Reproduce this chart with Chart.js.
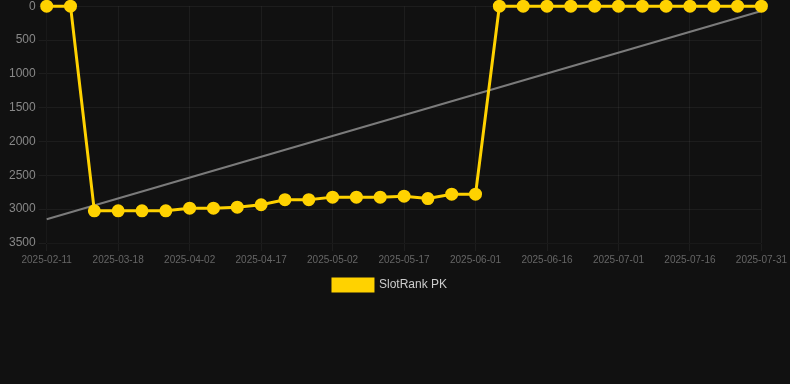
<!DOCTYPE html>
<html>
<head>
<meta charset="utf-8">
<script src="https://cdn.jsdelivr.net/npm/chart.js@4"></script>
<style>
  html, body { margin: 0; padding: 0; background: #111111; overflow: hidden; }
  #wrap { width: 790px; height: 305px; position: relative; margin-top: -4px; }
</style>
</head>
<body>
<div id="wrap"><canvas id="rank-chart"></canvas></div>
<script>
const labels = [
  '2025-02-11', '2025-03-08', '2025-03-13', '2025-03-18', '2025-03-23', '2025-03-28',
  '2025-04-02', '2025-04-07', '2025-04-12', '2025-04-17', '2025-04-22', '2025-04-27',
  '2025-05-02', '2025-05-07', '2025-05-12', '2025-05-17', '2025-05-22', '2025-05-27',
  '2025-06-01', '2025-06-06', '2025-06-11', '2025-06-16', '2025-06-21', '2025-06-26',
  '2025-07-01', '2025-07-06', '2025-07-11', '2025-07-16', '2025-07-21', '2025-07-26',
  '2025-07-31'
];
const rankValues = [
  0, 0, 3025, 3025, 3025, 3025,
  2985, 2985, 2970, 2935, 2860, 2860,
  2822, 2822, 2822, 2808, 2843, 2778,
  2778, 0, 0, 0, 0, 0,
  0, 0, 0, 0, 0, 0,
  0
];
const trendStart = 3150;
const trendEnd = 70;

async function main() {
  const canvas = document.querySelector('#rank-chart');

  const trendData = labels.map((l, i) => {
    if (i === 0) return trendStart;
    if (i === labels.length - 1) return trendEnd;
    return null;
  });

  // legend in the original sits a bit left of centre
  const legendShift = {
    id: 'legendShift',
    afterLayout(chart) {
      chart.legend.right -= 16;
    }
  };

  new Chart(canvas.getContext('2d'), {
    type: 'line',
    data: {
      labels: labels,
      datasets: [
        {
          label: 'SlotRank PK',
          data: rankValues,
          borderColor: 'rgb(255, 210, 0)',
          backgroundColor: 'rgb(255, 210, 0)',
          borderWidth: 3,
          pointRadius: 5,
          pointHoverRadius: 6,
          tension: 0,
          clip: false
        },
        {
          label: 'trend',
          data: trendData,
          borderColor: 'rgba(150, 150, 150, 0.8)',
          backgroundColor: 'rgba(150, 150, 150, 0.8)',
          borderWidth: 2,
          pointRadius: 0,
          spanGaps: true,
          tension: 0
        }
      ]
    },
    options: {
      responsive: true,
      maintainAspectRatio: false,
      animation: false,
      layout: { padding: { left: 6, right: 0, top: 0, bottom: 0 } },
      scales: {
        x: {
          ticks: {
            color: '#666',
            font: { family: 'Liberation Sans, Arial, sans-serif', size: 10 },
            maxRotation: 0,
            autoSkip: true
          },
          grid: { color: 'rgba(255,255,255,0.05)' }
        },
        y: {
          reverse: true,
          min: 0,
          max: 3500,
          ticks: {
            stepSize: 500,
            color: '#888',
            font: { family: 'Liberation Sans, Arial, sans-serif', size: 12 },
            callback: v => String(v)
          },
          grid: { color: 'rgba(255,255,255,0.05)' }
        }
      },
      plugins: {
        legend: {
          position: 'bottom',
          labels: {
            color: '#ccc',
            font: { family: 'Liberation Sans, Arial, sans-serif', size: 12 },
            filter: item => item.text !== 'trend'
          }
        },
        tooltip: { enabled: false }
      }
    },
    plugins: [legendShift]
  });
}

main()
</script>
</body>
</html>
